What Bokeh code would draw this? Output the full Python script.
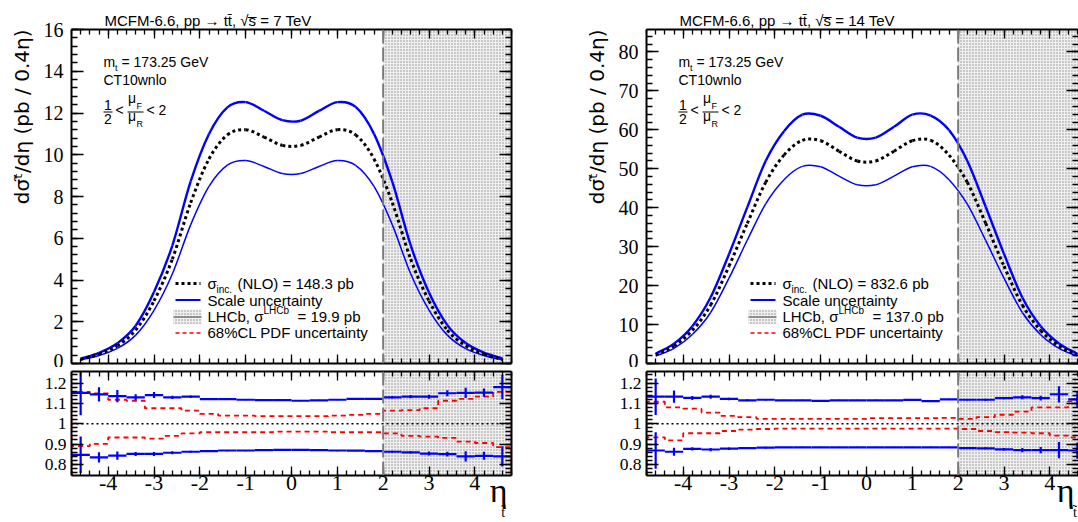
import math
import numpy as np
from bokeh.plotting import figure
from bokeh.models import FixedTicker, LinearAxis, Label, Span, BoxAnnotation, Range1d, Title
from bokeh.layouts import row, column
from bokeh.embed import file_html
from bokeh.resources import INLINE

# ---------------- data ----------------
eta_centers = [-4.6, -4.2, -3.8, -3.4, -3.0, -2.6, -2.2, -1.8, -1.4, -1.0, -0.6, -0.2,
               0.2, 0.6, 1.0, 1.4, 1.8, 2.2, 2.6, 3.0, 3.4, 3.8, 4.2, 4.6]
bin_half_width = 0.2

# 7 TeV, d sigma / d eta (pb / 0.4 eta)
xs7_central = [0.20, 0.45, 0.85, 1.60, 3.00, 5.00, 7.70, 9.80, 10.95, 11.20, 10.85, 10.45,
               10.45, 10.85, 11.20, 10.95, 9.80, 7.70, 5.00, 3.00, 1.60, 0.85, 0.45, 0.20]
xs7_scale_up = [0.23, 0.51, 0.97, 1.81, 3.42, 5.65, 8.72, 10.99, 12.27, 12.52, 12.11, 11.66,
                11.63, 12.10, 12.52, 12.29, 11.00, 8.70, 5.67, 3.40, 1.84, 0.98, 0.52, 0.24]
xs7_scale_down = [0.17, 0.38, 0.72, 1.36, 2.55, 4.29, 6.64, 8.48, 9.50, 9.72, 9.44, 9.10,
                  9.10, 9.44, 9.72, 9.49, 8.48, 6.64, 4.30, 2.56, 1.36, 0.71, 0.38, 0.17]
r7_scale_up = [1.152, 1.144, 1.136, 1.130, 1.141, 1.130, 1.133, 1.121, 1.121, 1.118, 1.116, 1.116,
               1.113, 1.115, 1.118, 1.122, 1.122, 1.130, 1.133, 1.133, 1.150, 1.152, 1.153, 1.180]
r7_scale_up_err = [0.110, 0.035, 0.030, 0.015, 0.015, 0.008, 0.006, 0.004, 0.003, 0.003, 0.003, 0.003,
                   0.003, 0.003, 0.003, 0.003, 0.004, 0.006, 0.008, 0.010, 0.015, 0.025, 0.020, 0.060]
r7_scale_down = [0.847, 0.834, 0.843, 0.851, 0.851, 0.857, 0.862, 0.865, 0.868, 0.868, 0.870, 0.871,
                 0.871, 0.870, 0.868, 0.867, 0.865, 0.862, 0.859, 0.853, 0.850, 0.839, 0.842, 0.839]
r7_scale_down_err = [0.090, 0.025, 0.020, 0.010, 0.010, 0.007, 0.005, 0.004, 0.003, 0.003, 0.003, 0.003,
                     0.003, 0.003, 0.003, 0.003, 0.004, 0.005, 0.006, 0.010, 0.012, 0.025, 0.020, 0.050]
r7_pdf_up = [1.157, 1.149, 1.118, 1.113, 1.076, 1.076, 1.064, 1.048, 1.040, 1.040, 1.037, 1.037,
             1.037, 1.037, 1.040, 1.043, 1.048, 1.064, 1.067, 1.076, 1.113, 1.122, 1.133, 1.157]
r7_pdf_down = [0.890, 0.901, 0.932, 0.932, 0.927, 0.940, 0.952, 0.958, 0.958, 0.958, 0.958, 0.961,
               0.961, 0.961, 0.958, 0.958, 0.958, 0.952, 0.940, 0.936, 0.930, 0.912, 0.905, 0.885]

# 14 TeV
xs14_central = [2.2, 4.5, 8.5, 15.0, 25.0, 36.0, 46.5, 53.5, 57.3, 57.2, 54.5, 52.0,
                52.0, 54.5, 57.2, 57.3, 53.5, 46.5, 36.0, 25.0, 15.0, 8.5, 4.5, 2.2]
xs14_scale_up = [2.49, 5.10, 9.58, 17.0, 28.05, 40.14, 51.99, 59.65, 63.89, 63.61, 60.77, 57.98,
                 57.98, 60.77, 63.89, 63.66, 59.92, 51.99, 40.25, 28.15, 16.95, 9.57, 5.15, 2.46]
xs14_scale_down = [1.91, 3.88, 7.45, 13.1, 21.9, 31.7, 41.0, 47.2, 50.6, 50.5, 48.1, 45.9,
                   45.9, 48.1, 50.5, 50.6, 47.2, 40.9, 31.6, 21.9, 13.1, 7.4, 3.9, 1.9]
r14_scale_up = [1.133, 1.133, 1.127, 1.133, 1.122, 1.115, 1.118, 1.115, 1.115, 1.112, 1.115, 1.115,
                1.115, 1.115, 1.117, 1.111, 1.120, 1.118, 1.118, 1.126, 1.130, 1.126, 1.145, 1.120]
r14_scale_up_err = [0.090, 0.030, 0.010, 0.010, 0.006, 0.005, 0.004, 0.003, 0.003, 0.003, 0.003, 0.003,
                    0.003, 0.003, 0.003, 0.003, 0.003, 0.004, 0.005, 0.006, 0.010, 0.012, 0.040, 0.040]
r14_scale_down = [0.868, 0.862, 0.876, 0.873, 0.877, 0.880, 0.882, 0.883, 0.883, 0.883, 0.883, 0.883,
                  0.883, 0.883, 0.883, 0.883, 0.883, 0.880, 0.879, 0.874, 0.870, 0.870, 0.870, 0.868]
r14_scale_down_err = [0.090, 0.020, 0.008, 0.008, 0.006, 0.005, 0.004, 0.003, 0.003, 0.003, 0.003, 0.003,
                      0.003, 0.003, 0.003, 0.003, 0.003, 0.004, 0.005, 0.006, 0.010, 0.015, 0.040, 0.040]
r14_pdf_up = [1.108, 1.080, 1.074, 1.055, 1.039, 1.032, 1.024, 1.024, 1.024, 1.024, 1.024, 1.024,
              1.027, 1.027, 1.027, 1.027, 1.029, 1.024, 1.032, 1.044, 1.059, 1.080, 1.080, 1.110]
r14_pdf_down = [0.933, 0.918, 0.953, 0.953, 0.964, 0.971, 0.974, 0.976, 0.976, 0.976, 0.976, 0.976,
                0.976, 0.976, 0.976, 0.976, 0.976, 0.974, 0.964, 0.959, 0.956, 0.953, 0.941, 0.933]

lhcb_eta_min = 2.0

x_ticks = [-4, -3, -2, -1, 0, 1, 2, 3, 4]
x_tick_labels = ["-4", "-3", "-2", "-1", "0", "1", "2", "3", "4"]
y7_ticks = [0, 2, 4, 6, 8, 10, 12, 14, 16]
y7_tick_labels = ["0", "2", "4", "6", "8", "10", "12", "14", "16"]
y14_ticks = [0, 10, 20, 30, 40, 50, 60, 70, 80]
y14_tick_labels = ["0", "10", "20", "30", "40", "50", "60", "70", "80"]
ratio_ticks = [0.8, 0.9, 1.0, 1.1, 1.2]
ratio_tick_labels = ["0.8", "0.9", "1", "1.1", "1.2"]

title7 = "MCFM-6.6, pp \u2192 tt\u0304, \u221as\u0305 = 7 TeV"
title14 = "MCFM-6.6, pp \u2192 tt\u0304, \u221as\u0305 = 14 TeV"
nlo7 = "(NLO) = 148.3 pb"
nlo14 = "(NLO) = 832.6 pb"
lhcb7 = "= 19.9 pb"
lhcb14 = "= 137.0 pb"
y_title = "d\u03c3\u1d57\u0303/d\u03b7 (pb / 0.4\u03b7)"
x_title = "\u03b7"
x_title_sub = "t\u0303"

# ---------------- style ----------------
SANS = "Liberation Sans"
SERIF = "Liberation Serif"
BLUE = "#0000ff"
RED = "#ff0000"
SHADE = dict(fill_color="#efefef", fill_alpha=1.0, hatch_pattern="dot", hatch_color="#8f8f8f",
             hatch_scale=3.0, hatch_weight=1.0)

X0 = -4.8
PPX = 440.0 / 9.6
RATIO_RANGE = (0.745, 1.257)
X_TITLE_POS = 4.52
X_TITLE_SUB_POS = 4.62

x_minor = list(np.round(np.arange(-4.8, 4.81, 0.2), 3))
y7_minor = list(np.round(np.arange(0, 16.01, 0.4), 3))
y14_minor = list(np.round(np.arange(0, 86.01, 2.0), 3))
ratio_minor = list(np.round(np.arange(0.74, 1.261, 0.02), 3))


def make_fig(width, height, bl, br, bt, bb, x_end, y_range):
    p = figure(width=width, height=height, x_range=Range1d(X0, x_end), y_range=Range1d(*y_range),
               output_backend="svg", toolbar_location=None, x_axis_type=None, y_axis_type=None,
               min_border_left=bl, min_border_right=br, min_border_top=bt, min_border_bottom=bb)
    p.outline_line_color = None
    p.background_fill_color = "white"
    p.border_fill_color = "white"
    return p


def add_axis(p, side, ticks, minor, labels=None, size=None, standoff=0, tick_in=12, minor_in=6, line=True):
    ax = LinearAxis(ticker=FixedTicker(ticks=ticks, minor_ticks=minor))
    ax.major_tick_in = tick_in
    ax.major_tick_out = 0
    ax.minor_tick_in = minor_in
    ax.minor_tick_out = 0
    ax.major_tick_line_width = 1.3
    ax.minor_tick_line_width = 1.3
    if line:
        ax.axis_line_width = 2
        ax.axis_line_color = "black"
    else:
        ax.axis_line_color = None
    if labels is not None:
        ax.major_label_overrides = {t: l for t, l in zip(ticks, labels)}
        ax.major_label_text_font = SERIF
        ax.major_label_text_font_size = f"{size}px"
        ax.major_label_standoff = standoff
        ax.major_label_text_color = "black"
    else:
        ax.major_label_text_font_size = "1px"
        ax.major_label_text_color = None
        ax.major_label_standoff = 0
    p.add_layout(ax, side)
    return ax


def add_text_axis(p, pos, text, size, standoff):
    ax = LinearAxis(ticker=FixedTicker(ticks=[pos], minor_ticks=[]))
    ax.major_label_overrides = {pos: text}
    ax.major_tick_in = 0
    ax.major_tick_out = 0
    ax.minor_tick_in = 0
    ax.minor_tick_out = 0
    ax.major_tick_line_color = None
    ax.minor_tick_line_color = None
    ax.axis_line_color = None
    ax.major_label_text_font = SERIF
    ax.major_label_text_font_size = f"{size}px"
    ax.major_label_standoff = standoff
    ax.major_label_text_color = "black"
    p.add_layout(ax, "below")


def add_label(p, g, px, py, text, size, font=SANS, align="left"):
    # py is the text baseline (page px); anchor the label on its middle
    p.add_layout(Label(x=px - g["fl"], y=g["fb"] - (py - 0.36 * size), x_units="screen", y_units="screen",
                       text=text, text_font=font, text_font_size=f"{size}px",
                       text_align=align, text_baseline="middle", text_color="black"))


def dx_(g, px):
    return X0 + (px - g["fl"]) / PPX


def dy_(g, py):
    return g["y0"] + (g["fb"] - py) / g["ppy"]


def smooth_curve(p, xs, ys, **kw):
    xs = np.asarray(xs, float)
    ys = np.asarray(ys, float)
    xp = np.concatenate([[2 * xs[0] - xs[1]], xs, [2 * xs[-1] - xs[-2]]])
    yp = np.concatenate([[2 * ys[0] - ys[1]], ys, [2 * ys[-1] - ys[-2]]])
    p.bezier(x0=xp[1:-2], y0=yp[1:-2], x1=xp[2:-1], y1=yp[2:-1],
             cx0=xp[1:-2] + (xp[2:-1] - xp[:-3]) / 6.0, cy0=yp[1:-2] + (yp[2:-1] - yp[:-3]) / 6.0,
             cx1=xp[2:-1] - (xp[3:] - xp[1:-2]) / 6.0, cy1=yp[2:-1] - (yp[3:] - yp[1:-2]) / 6.0, **kw)


def hist_steps(p, centers, vals, base, **kw):
    xs = [centers[0] - bin_half_width]
    ys = [base]
    for c, v in zip(centers, vals):
        xs += [c - bin_half_width, c + bin_half_width]
        ys += [v, v]
    xs.append(centers[-1] + bin_half_width)
    ys.append(base)
    p.line(xs, ys, **kw)


def err_hist(p, centers, vals, errs, **kw):
    c = np.asarray(centers)
    v = np.asarray(vals)
    e = np.asarray(errs)
    p.segment(x0=c - bin_half_width, x1=c + bin_half_width, y0=v, y1=v, **kw)
    p.segment(x0=c, x1=c, y0=v - e, y1=v + e, **kw)


def build_panel(col_x, width, bl, br, x_end, y_range, y_ticks, y_labels, y_minor,
                central, up, down, rup, rup_e, rdn, rdn_e, pup, pdn,
                title, nlo, lhcb, dx, right_frame_line):
    # main plot
    mh, mt, mb = 367, 29, 4
    main = make_fig(width, mh, bl, br, mt, mb, x_end, y_range)
    frame_h = mh - mt - mb
    g = dict(fl=col_x + bl, fb=mt + frame_h, y0=y_range[0],
             ppy=frame_h / (y_range[1] - y_range[0]))
    main.add_layout(BoxAnnotation(left=lhcb_eta_min, level="underlay", line_color=None, **SHADE))
    main.add_layout(Span(location=lhcb_eta_min, dimension="height", line_color="#7a7a7a",
                         line_width=2, line_dash="14 4"))
    smooth_curve(main, eta_centers, up, line_color=BLUE, line_width=2.4)
    smooth_curve(main, eta_centers, down, line_color=BLUE, line_width=1.5)
    smooth_curve(main, eta_centers, central, line_color="black", line_width=3, line_dash="3 3")
    add_axis(main, "left", y_ticks, y_minor, y_labels, 20, 8, 12, 6)
    add_axis(main, "right", y_ticks, y_minor, None, None, 0, 12, 6, line=right_frame_line)
    add_axis(main, "below", x_ticks, x_minor, None, None, 0, 9, 5)
    add_axis(main, "above", x_ticks, x_minor, None, None, 0, 9, 5)

    main.title.text = title
    main.title.align = "left"
    main.title.offset = 33
    main.title.standoff = 1
    main.title.text_font = SANS
    main.title.text_font_size = "15px"
    main.title.text_font_style = "normal"
    main.title.text_color = "black"
    main.add_layout(Title(text=y_title, align="right", offset=0, standoff=14, text_font="DejaVu Sans",
                          text_font_size="20px", text_font_style="normal", text_color="black"), "left")

    add_label(main, g, 103 + dx, 67, "m", 14)
    add_label(main, g, 114.5 + dx, 71, "t", 9)
    add_label(main, g, 121 + dx, 67, "= 173.25 GeV", 14)
    add_label(main, g, 103 + dx, 85, "CT10wnlo", 14)
    add_label(main, g, 107.5 + dx, 110, "1", 14, align="center")
    add_label(main, g, 107.5 + dx, 123.5, "2", 14, align="center")
    main.line([dx_(g, 103 + dx), dx_(g, 112 + dx)], [dy_(g, 111.5), dy_(g, 111.5)], line_color="black", line_width=1)
    add_label(main, g, 115 + dx, 115, "<", 14)
    add_label(main, g, 127.5 + dx, 103, "\u03bc", 14)
    add_label(main, g, 136 + dx, 108.5, "F", 9)
    main.line([dx_(g, 127 + dx), dx_(g, 143 + dx)], [dy_(g, 111.5), dy_(g, 111.5)], line_color="black", line_width=1)
    add_label(main, g, 127.5 + dx, 121, "\u03bc", 14)
    add_label(main, g, 136 + dx, 127, "R", 9)
    add_label(main, g, 146 + dx, 115, "< 2", 14)

    # legend
    lx0, lx1 = dx_(g, 175 + dx), dx_(g, 200 + dx)
    main.line([lx0, lx1], [dy_(g, 283), dy_(g, 283)], line_color="black", line_width=3, line_dash="3 3")
    main.line([lx0, lx1], [dy_(g, 299.5), dy_(g, 299.5)], line_color=BLUE, line_width=2)
    main.quad(left=[dx_(g, 173 + dx)], right=[dx_(g, 201 + dx)], top=[dy_(g, 309)], bottom=[dy_(g, 324)],
              line_color=None, **SHADE)
    main.line([dx_(g, 173 + dx), dx_(g, 201 + dx)], [dy_(g, 316.5), dy_(g, 316.5)], line_color="#777777", line_width=1.5)
    main.line([lx0, lx1], [dy_(g, 332.5), dy_(g, 332.5)], line_color=RED, line_width=1.5, line_dash="4 3")
    add_label(main, g, 207 + dx, 288, "\u03c3", 15)
    add_label(main, g, 216 + dx, 293, "inc.", 10)
    add_label(main, g, 237 + dx, 288, nlo, 15)
    add_label(main, g, 207 + dx, 305, "Scale uncertainty", 15)
    add_label(main, g, 207 + dx, 321.5, "LHCb, \u03c3", 15)
    add_label(main, g, 263 + dx, 313.5, "LHCb", 10)
    add_label(main, g, 297 + dx, 321.5, lhcb, 15)
    add_label(main, g, 207 + dx, 337, "68%CL PDF uncertainty", 15)

    # ratio plot
    rh, rt, rb = 155, 4, 40
    ratio = make_fig(width, rh, bl, br, rt, rb, x_end, RATIO_RANGE)
    ratio.add_layout(BoxAnnotation(left=lhcb_eta_min, level="underlay", line_color=None, **SHADE))
    ratio.add_layout(Span(location=lhcb_eta_min, dimension="height", line_color="#7a7a7a",
                          line_width=2, line_dash="14 4"))
    ratio.add_layout(Span(location=1.0, dimension="width", line_color="black", line_width=1.5, line_dash="2 3"))
    hist_steps(ratio, eta_centers, pup, RATIO_RANGE[0], line_color=RED, line_width=1.8, line_dash="5 4")
    hist_steps(ratio, eta_centers, pdn, RATIO_RANGE[0], line_color=RED, line_width=1.8, line_dash="5 4")
    err_hist(ratio, eta_centers, rup, rup_e, line_color=BLUE, line_width=2.2)
    err_hist(ratio, eta_centers, rdn, rdn_e, line_color=BLUE, line_width=2.2)
    add_axis(ratio, "left", ratio_ticks, ratio_minor, ratio_tick_labels, 17.5, 5, 12, 6)
    add_axis(ratio, "right", ratio_ticks, ratio_minor, None, None, 0, 12, 6, line=right_frame_line)
    add_axis(ratio, "below", x_ticks, x_minor, x_tick_labels, 22, 0, 9, 5)
    add_axis(ratio, "above", x_ticks, x_minor, None, None, 0, 9, 5)
    add_text_axis(ratio, X_TITLE_POS, x_title, 34, -21)
    add_text_axis(ratio, X_TITLE_SUB_POS, x_title_sub, 14, -7)
    return column(main, ratio)


left = build_panel(0, 560, 71, 49, 4.8, (0, 16), y7_ticks, y7_tick_labels, y7_minor,
                   xs7_central, xs7_scale_up, xs7_scale_down,
                   r7_scale_up, r7_scale_up_err, r7_scale_down, r7_scale_down_err, r7_pdf_up, r7_pdf_down,
                   title7, nlo7, lhcb7, 0, True)
right = build_panel(560, 518, 86, 0, X0 + 432.0 / PPX, (0, 85.75), y14_ticks, y14_tick_labels, y14_minor,
                    xs14_central, xs14_scale_up, xs14_scale_down,
                    r14_scale_up, r14_scale_up_err, r14_scale_down, r14_scale_down_err, r14_pdf_up, r14_pdf_down,
                    title14, nlo14, lhcb14, 575, False)

layout = row(left, right)
open("out.html", "w").write(file_html(layout, INLINE))
